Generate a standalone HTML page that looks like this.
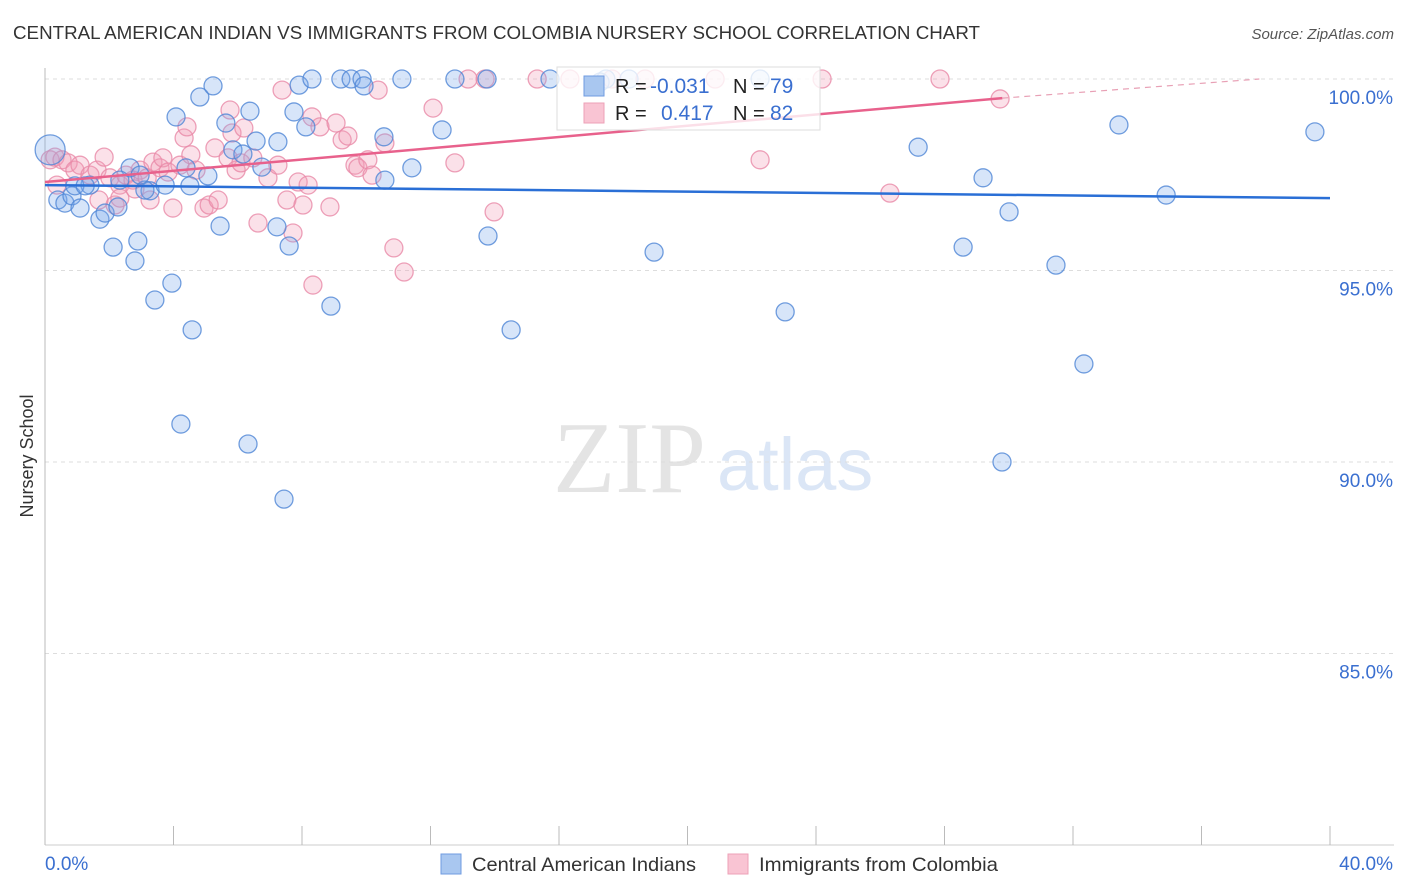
<!DOCTYPE html>
<html><head><meta charset="utf-8"><style>
body{margin:0;background:#fff;}
svg{display:block;font-family:"Liberation Sans",sans-serif;}
</style></head><body>
<svg id="chart" width="1406" height="892" viewBox="0 0 1406 892">
<text x="13" y="39" font-size="18" fill="#333" textLength="967" lengthAdjust="spacingAndGlyphs">CENTRAL AMERICAN INDIAN VS IMMIGRANTS FROM COLOMBIA NURSERY SCHOOL CORRELATION CHART</text>
<text x="1394" y="39" font-size="15" fill="#555" font-style="italic" text-anchor="end">Source: ZipAtlas.com</text>
<g>
<text x="553" y="492" font-family="Liberation Serif,serif" font-size="102" fill="#e4e4e4">ZIP</text>
<text x="717" y="490" font-size="74" fill="#dbe6f6">atlas</text>
</g>
<g id="grid"></g>
<g id="axes"></g>
<g id="pts"></g>
<g id="trend"></g>
<text x="33" y="456" font-size="18" fill="#333" transform="rotate(-90 33 456)" text-anchor="middle">Nursery School</text>
<g>
<rect x="557" y="67" width="263" height="63" fill="#fff" fill-opacity="0.8" stroke="#ddd"/>
<rect x="584" y="76" width="20" height="20" fill="#a9c7f0" stroke="#6f9be0"/>
<rect x="584" y="103" width="20" height="20" fill="#f9c4d3" stroke="#eda1b7"/>
<text x="615" y="93" font-size="20" fill="#222">R = </text><text x="650" y="93" font-size="21" fill="#3a6fd0">-0.031</text>
<text x="733" y="93" font-size="20" fill="#222">N = </text><text x="770" y="93" font-size="21" fill="#3a6fd0">79</text>
<text x="615" y="120" font-size="20" fill="#222">R = </text><text x="661" y="120" font-size="21" fill="#3a6fd0">0.417</text>
<text x="733" y="120" font-size="20" fill="#222">N = </text><text x="770" y="120" font-size="21" fill="#3a6fd0">82</text>
</g>
<g>
<rect x="441" y="854" width="20" height="20" fill="#a9c7f0" stroke="#6f9be0"/>
<text x="472" y="871" font-size="19.5" fill="#333" textLength="224" lengthAdjust="spacingAndGlyphs">Central American Indians</text>
<rect x="728" y="854" width="20" height="20" fill="#f9c4d3" stroke="#eda1b7"/>
<text x="759" y="871" font-size="19.5" fill="#333" textLength="239" lengthAdjust="spacingAndGlyphs">Immigrants from Colombia</text>
</g>
</svg>
<script>
const yTicks=[100,95,90,85];
const yTickLabels=["100.0%","95.0%","90.0%","85.0%"];
const xTickVals=[0,4,8,12,16,20,24,28,32,36,40];
const xEndLabels=["0.0%","40.0%"];
const blueX=[0.16,0.40,0.62,0.84,1.09,1.40,1.71,1.87,2.12,2.27,2.65,2.80,2.89,3.27,3.42,3.74,3.95,4.08,4.23,4.39,4.58,4.82,5.07,5.23,5.45,5.63,5.85,6.16,6.32,6.38,6.57,6.75,7.22,7.25,7.44,7.60,7.75,7.91,8.12,8.31,8.90,9.21,9.53,9.87,9.93,10.55,10.58,11.11,11.42,12.36,12.76,13.76,13.79,14.51,15.72,17.46,18.18,18.96,22.26,23.04,27.18,28.58,29.20,29.79,30.01,31.47,32.34,33.43,34.90,39.53,17.28,0.93,1.25,2.33,3.11,4.51,2.96];
const blueY=[98.15,96.84,96.76,96.95,96.63,97.23,96.34,96.50,95.61,96.66,97.68,95.25,95.77,97.08,94.23,97.23,94.67,99.01,90.99,97.68,93.45,99.53,97.47,99.82,96.16,98.85,98.15,98.04,90.47,99.16,98.38,97.70,96.14,98.36,89.03,95.64,99.14,99.84,98.75,100,94.07,100,100,100,99.82,98.49,97.36,100,97.68,98.67,100,100,95.90,93.45,100,100,100,95.48,100,93.92,98.22,95.61,97.42,90.0,96.53,95.14,92.56,98.80,96.97,98.62,99.92,97.21,97.21,97.36,97.10,97.21,97.49];
const pinkX=[0.16,0.31,0.53,0.72,0.93,1.09,1.40,1.62,1.84,2.02,2.18,2.33,2.52,2.74,2.96,3.18,3.36,3.58,3.67,3.83,3.98,4.20,4.33,4.42,4.54,4.70,4.95,5.11,5.29,5.39,5.70,5.82,5.95,6.10,6.19,6.47,6.63,6.94,7.25,7.38,7.53,7.72,7.88,8.03,8.19,8.34,8.31,8.56,8.87,9.06,9.25,9.43,9.65,9.74,10.05,10.18,10.37,10.58,10.86,11.18,12.08,12.76,13.17,13.70,13.98,15.32,16.34,17.65,18.68,20.86,22.26,24.19,26.30,27.86,29.73,0.37,1.68,2.33,2.80,3.27,5.76];
const pinkY=[97.89,97.96,97.89,97.81,97.62,97.75,97.49,97.62,97.96,97.42,96.71,97.23,97.49,97.36,97.62,97.42,97.83,97.68,97.94,97.57,96.63,97.75,98.46,98.75,98.02,97.62,96.63,96.71,98.20,96.84,97.94,98.59,97.62,97.81,98.72,97.94,96.24,97.42,97.75,99.71,96.84,95.98,97.31,96.71,97.23,94.62,99.01,98.75,96.66,98.85,98.41,98.51,97.75,97.68,97.89,97.49,99.71,98.33,95.59,94.96,99.24,97.81,100,100,96.53,100,100,100,100,100,97.89,100,97.02,100,99.48,97.23,96.84,96.89,97.13,96.84,99.19];
const blueTrendX=[0,40], blueTrendY=[97.23,96.89];
const pinkTrendX=[0,29.8], pinkTrendY=[97.31,99.50];
const pinkDashX=[29.8,37.8], pinkDashY=[99.50,100.0];

const X0=45,X1=1330,Y100=79,PX5=191.5;
const xs=v=>X0+(v/40)*(X1-X0);
const ys=v=>Y100+(100-v)*PX5/5;
const NS="http://www.w3.org/2000/svg";
function mk(tag,attrs,parent){const e=document.createElementNS(NS,tag);for(const k in attrs)e.setAttribute(k,attrs[k]);parent.appendChild(e);return e;}
const grid=document.getElementById('grid'),axes=document.getElementById('axes'),pts=document.getElementById('pts'),trend=document.getElementById('trend');
yTicks.forEach((t,i)=>{
  const l=mk('line',{x1:X0,x2:1394,y1:ys(t),y2:ys(t),stroke:'#ddd','stroke-dasharray':'4,4'},grid);
  
  
  const tx=mk('text',{x:1393,y:ys(t)+25,'font-size':19,fill:'#3a6fd0','text-anchor':'end'},axes);
  tx.textContent=yTickLabels[i];
  
  
});
const ax=mk('line',{x1:X0,x2:X0,y1:68,y2:845,stroke:'#bbb'},axes);


const bx=mk('line',{x1:X0,x2:1394,y1:845,y2:845,stroke:'#ccc'},axes);


xTickVals.forEach(t=>{
  const l=mk('line',{x1:xs(t),x2:xs(t),y1:826,y2:845,stroke:'#bbb'},axes);
  
  
});
const xl0=mk('text',{x:45,y:870,'font-size':19,fill:'#3a6fd0'},axes);xl0.textContent=xEndLabels[0];


const xl1=mk('text',{x:1393,y:870,'font-size':19,fill:'#3a6fd0','text-anchor':'end'},axes);xl1.textContent=xEndLabels[1];


function drawPts(X,Y,fill,stroke,name){
  X.forEach((x,i)=>{
    const r=(i===0&&name==='blue-point')?15:9;
    const c=mk('circle',{cx:xs(x),cy:ys(Y[i]),r:r,fill:fill,'fill-opacity':0.3,stroke:stroke,'stroke-width':1.3,'stroke-opacity':0.8},pts);
    
    
  });
}
drawPts(pinkX,pinkY,'#f29ab5','#e88aa8','pink-point');
drawPts(blueX,blueY,'#7aa8ec','#4f86d6','blue-point');
const bl=mk('line',{x1:xs(blueTrendX[0]),y1:ys(blueTrendY[0]),x2:xs(blueTrendX[1]),y2:ys(blueTrendY[1]),stroke:'#2a6fd6','stroke-width':2.5},trend);


const pl=mk('line',{x1:xs(pinkTrendX[0]),y1:ys(pinkTrendY[0]),x2:xs(pinkTrendX[1]),y2:ys(pinkTrendY[1]),stroke:'#e8618c','stroke-width':2.5},trend);


const pd=mk('line',{x1:xs(pinkDashX[0]),y1:ys(pinkDashY[0]),x2:xs(pinkDashX[1]),y2:ys(pinkDashY[1]),stroke:'#e8a0b5','stroke-width':1.2,'stroke-dasharray':'6,5'},trend);


</script>
</body></html>
